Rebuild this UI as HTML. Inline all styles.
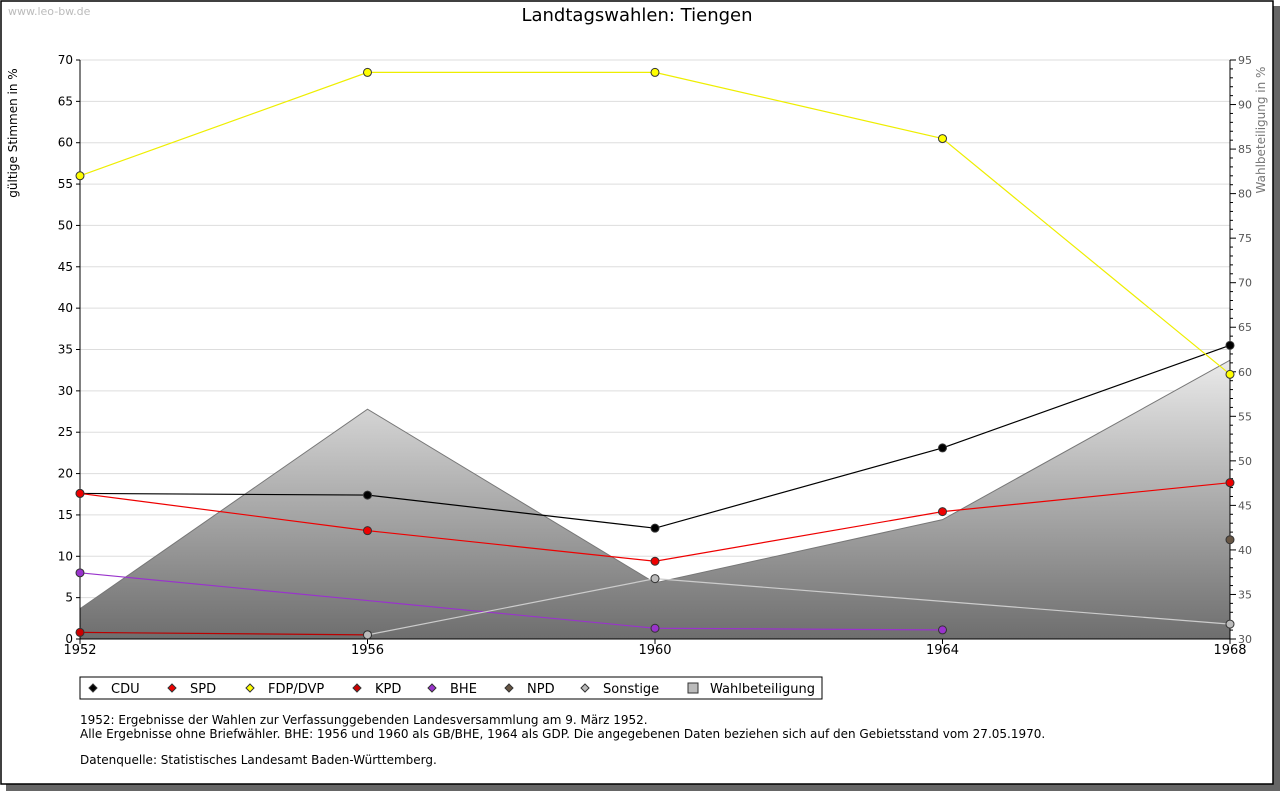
<!DOCTYPE html>
<html><head><meta charset="utf-8"><style>
body{margin:0;background:#fff;}
svg text{font-family:"DejaVu Sans","Liberation Sans",sans-serif;}
</style></head><body>
<svg width="1280" height="791" xmlns="http://www.w3.org/2000/svg">
<defs><linearGradient id="g" x1="0" y1="0" x2="0" y2="1"><stop offset="0" stop-color="#eaeaea"/><stop offset="1" stop-color="#6e6e6e"/></linearGradient></defs>
<rect x="6" y="6" width="1274" height="785" fill="#666"/>
<rect x="1" y="1" width="1272" height="783" fill="#fff" stroke="#000" stroke-width="1.5"/>
<text x="8" y="15" font-size="11" fill="#bbb">www.leo-bw.de</text>
<text x="637" y="21" font-size="18" text-anchor="middle">Landtagswahlen: Tiengen</text>
<text transform="translate(17,133) rotate(-90)" font-size="12" text-anchor="middle">gültige Stimmen in %</text>
<text transform="translate(1265,130) rotate(-90)" font-size="12" fill="#777" text-anchor="middle">Wahlbeteiligung in %</text>
<g id="grid"></g><g id="area"></g><g id="axes"></g><g id="lines"></g>
<g>
<rect x="80" y="677" width="742" height="22" fill="#fff" stroke="#000"/>
<g id="legend"></g></g>
<g font-size="12">
<text x="80" y="724">1952: Ergebnisse der Wahlen zur Verfassunggebenden Landesversammlung am 9. März 1952.</text>
<text x="80" y="738">Alle Ergebnisse ohne Briefwähler. BHE: 1956 und 1960 als GB/BHE, 1964 als GDP. Die angegebenen Daten beziehen sich auf den Gebietsstand vom 27.05.1970.</text>
<text x="80" y="764">Datenquelle: Statistisches Landesamt Baden-Württemberg.</text>
</g>
</svg>
<script>
const years=[1952,1956,1960,1964,1968];
const cdu=[17.6,17.4,13.4,23.1,35.5];
const spd=[17.6,13.1,9.4,15.4,18.9];
const fdp=[56.0,68.5,68.5,60.5,32.0];
const kpd=[0.8,0.5,null,null,null];
const bhe=[8.0,null,1.3,1.1,null];
const npd=[null,null,null,null,12.0];
const sonst=[null,0.5,7.3,null,1.8];
const turnout=[33.4,55.8,36.3,43.4,61.3];
const leftTicks=[0,5,10,15,20,25,30,35,40,45,50,55,60,65,70];
const rightTicks=[30,35,40,45,50,55,60,65,70,75,80,85,90,95];
const NS='http://www.w3.org/2000/svg';
const X=y=>80+(y-1952)/16*1150;
const Y=v=>639-v/70*579;
const Y2=v=>639-(v-30)/65*579;
function mk(t,a,p){const e=document.createElementNS(NS,t);for(const k in a)e.setAttribute(k,a[k]);p.appendChild(e);return e;}
const grid=document.getElementById('grid'),axes=document.getElementById('axes'),area=document.getElementById('area'),lines=document.getElementById('lines'),leg=document.getElementById('legend');
leftTicks.forEach(v=>{
 if(v>0){const l=mk('line',{x1:80,x2:1230,y1:Y(v),y2:Y(v),stroke:'#ddd'},grid);}
 mk('line',{x1:76,x2:80,y1:Y(v),y2:Y(v),stroke:'#000'},axes);
 const t=mk('text',{x:73,y:Y(v)+4,'font-size':12,'text-anchor':'end'},axes);t.textContent=v;
 
});
for(let v=30;v<=95;v++){mk('line',{x1:1230,x2:v%5?1233:1236,y1:Y2(v),y2:Y2(v),stroke:'#000'},axes);}
rightTicks.forEach(v=>{const t=mk('text',{x:1238,y:Y2(v)+4,'font-size':11,fill:'#555'},axes);t.textContent=v;
 });
let d='M'+X(years[0])+','+639;years.forEach((y,i)=>d+=' L'+X(y)+','+Y2(turnout[i]));d+=' L'+X(1968)+',639 Z';
const a=mk('path',{d:d,fill:'url(#g)',stroke:'#777'},area);

mk('line',{x1:80,x2:80,y1:60,y2:639,stroke:'#000'},axes);
mk('line',{x1:1230,x2:1230,y1:60,y2:639,stroke:'#000'},axes);
mk('line',{x1:80,x2:1230,y1:639,y2:639,stroke:'#000'},axes);
years.forEach(y=>{mk('line',{x1:X(y),x2:X(y),y1:639,y2:644,stroke:'#000'},axes);
 const t=mk('text',{x:X(y),y:654,'font-size':13,'text-anchor':'middle'},axes);t.textContent=y;
 });
const series=[['cdu',cdu,'#000','#000'],['spd',spd,'#e00','#e00'],['fdp',fdp,'#ee0','#ff0'],['kpd',kpd,'#b00','#c00'],['bhe',bhe,'#93c','#93c'],['npd',npd,'#654','#654'],['sonstige',sonst,'#ccc','#bbb']];
series.forEach(([n,vals,lc,fc])=>{
 const pts=[];vals.forEach((v,i)=>{if(v!==null)pts.push([X(years[i]),Y(v)]);});
 if(pts.length>1){const l=mk('polyline',{points:pts.map(p=>p.join(',')).join(' '),fill:'none',stroke:lc,'stroke-width':1.2},lines);
  }
 pts.forEach(p=>{const m=mk('circle',{cx:p[0],cy:p[1],r:4,fill:fc,stroke:'#333'},lines);
  });
});
const legItems=[['CDU','#000',93],['SPD','#e00',172],['FDP/DVP','#ff0',250],['KPD','#c00',357],['BHE','#93c',432],['NPD','#654',509],['Sonstige','#bbb',585]];
legItems.forEach(([lab,c,x])=>{
 const g=mk('g',{},leg);
 mk('path',{d:`M${x},684 l4,4 l-4,4 l-4,-4 Z`,fill:c,stroke:'#333'},g);
 const t=mk('text',{x:x+18,y:693,'font-size':13},g);t.textContent=lab;});
const g=mk('g',{},leg);
mk('rect',{x:688,y:683,width:10,height:10,fill:'#bbb',stroke:'#333'},g);
const t=mk('text',{x:710,y:693,'font-size':13},g);t.textContent='Wahlbeteiligung';
</script>
</body></html>
